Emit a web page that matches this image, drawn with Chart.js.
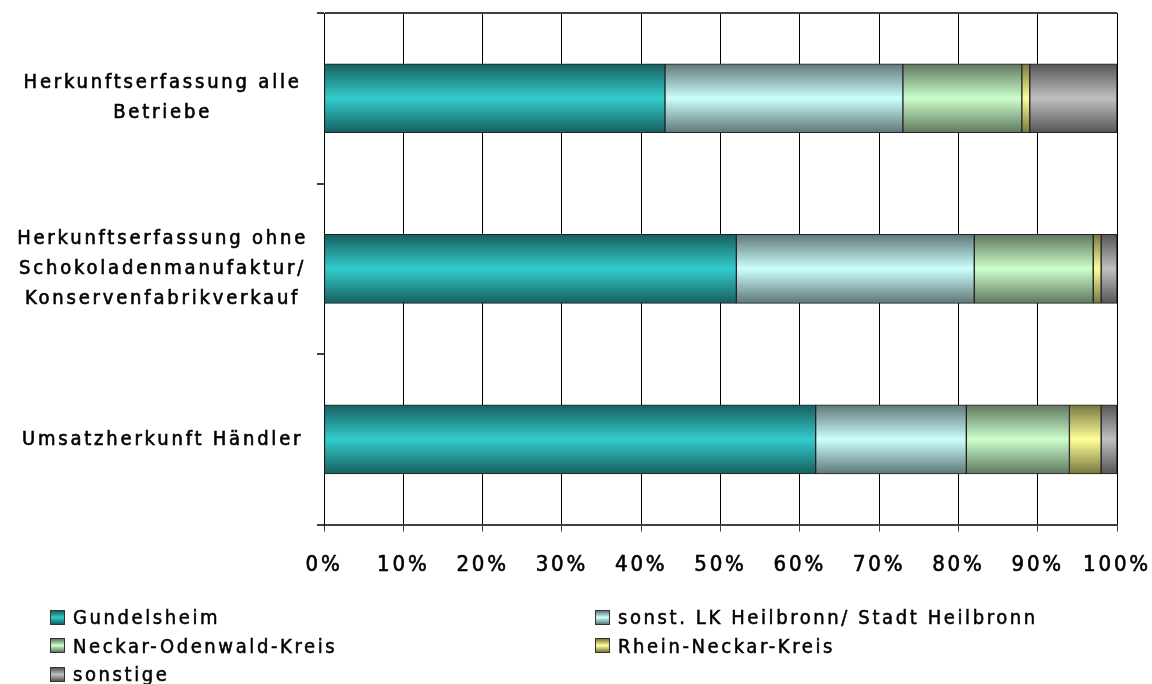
<!DOCTYPE html>
<html>
<head>
<meta charset="utf-8">
<script src="https://cdn.jsdelivr.net/npm/chart.js@4"></script>
<style>
html, body { margin:0; padding:0; background:#fff; }
#wrap { position:relative; width:1152px; height:684px; }
#chart { position:absolute; left:0; top:0; }
#legend { position:absolute; left:50px; top:603px; display:grid; grid-template-columns:545px 545px;
  font-family:'DejaVu Sans Condensed','DejaVu Sans',sans-serif; font-size:20px; letter-spacing:2.6px; color:#000;
  -webkit-text-stroke:0.5px #000; }
#legend .item { height:28.5px; display:flex; align-items:center; white-space:nowrap; }
#legend .box { width:13px; height:13px; border:1px solid #333; margin-right:8px; }
</style>
</head>
<body>
<div id="wrap">
<canvas id="chart" width="1152" height="684"></canvas>
<div id="legend"></div>
</div>
<script>
// categories and values (percent of total)
const categories = [
  ['Herkunftserfassung alle', 'Betriebe'],
  ['Herkunftserfassung ohne', 'Schokoladenmanufaktur/', 'Konservenfabrikverkauf'],
  'Umsatzherkunft Händler'
];
const seriesNames = ['Gundelsheim', 'sonst. LK Heilbronn/ Stadt Heilbronn', 'Neckar-Odenwald-Kreis', 'Rhein-Neckar-Kreis', 'sonstige'];
const gundelsheim    = [43, 52, 62];
const heilbronn      = [30, 30, 19];
const neckarOdenwald = [15, 15, 13];
const rheinNeckar    = [1, 1, 4];
const sonstige       = [11, 2, 2];
const xTicks = [0, 10, 20, 30, 40, 50, 60, 70, 80, 90, 100];

// shading: light centre, dark edges
const centerColors = ['#33CCCC', '#CCFFFF', '#CCFFCC', '#FFFF99', '#C0C0C0'];
const edgeColors   = ['#175F5F', '#5F7777', '#5F775F', '#77773F', '#555555'];

const FONT = "'DejaVu Sans Condensed', 'DejaVu Sans', sans-serif";
const BAR = 69;

function shade(i){
  return (c) => {
    const y = c.chart.scales.y;
    if (!y || c.dataIndex === undefined) return centerColors[i];
    const mid = y.getPixelForValue(c.dataIndex);
    if (!isFinite(mid)) return centerColors[i];
    const g = c.chart.ctx.createLinearGradient(0, mid - BAR/2, 0, mid + BAR/2);
    g.addColorStop(0, edgeColors[i]);
    g.addColorStop(0.5, centerColors[i]);
    g.addColorStop(1, edgeColors[i]);
    return g;
  };
}

const values = [gundelsheim, heilbronn, neckarOdenwald, rheinNeckar, sonstige];
const datasets = values.map((v, i) => ({
  label: seriesNames[i],
  data: v,
  backgroundColor: shade(i),
  borderColor: '#222',
  borderWidth: 1,
  borderSkipped: false,
  barThickness: BAR
}));

// canvas letter spacing (reset on every resize, so set it each pass)
const spacing = {
  id: 'spacing',
  beforeUpdate(chart){ chart.ctx.letterSpacing = '2.8px'; },
  beforeDraw(chart){ chart.ctx.letterSpacing = '2.8px'; }
};

const chart = new Chart(document.getElementById('chart'), {
  type: 'bar',
  data: { labels: categories, datasets },
  options: {
    indexAxis: 'y',
    responsive: false,
    animation: false,
    layout: { padding: { left: 0, right: 35, top: 13, bottom: 86 } },
    plugins: { legend: { display: false }, tooltip: { enabled: false } },
    scales: {
      x: {
        stacked: true, min: 0, max: 100,
        afterBuildTicks: (s) => { s.ticks = xTicks.map(v => ({ value: v })); },
        afterFit: (s) => { s.paddingLeft = 0; s.paddingRight = 0; },
        ticks: { callback: v => v + '%', color: '#000', padding: 20, maxRotation: 0,
          textStrokeColor: '#000', textStrokeWidth: 0.6, font: { family: FONT, size: 22 } },
        grid: { color: '#000', lineWidth: 1, tickLength: 7, tickColor: '#404040' },
        border: { color: '#404040', width: 2 }
      },
      y: {
        stacked: true,
        afterFit: (s) => { s.width = 324; s.paddingTop = 0; s.paddingBottom = 0; },
        ticks: { color: '#000', padding: 9, crossAlign: 'center',
          textStrokeColor: '#000', textStrokeWidth: 0.6, font: { family: FONT, size: 20, lineHeight: 1.5 } },
        grid: { offset: true, tickLength: 7, tickColor: '#404040', lineWidth: 2,
          color: (c) => c.index === 0 ? '#404040' : 'rgba(0,0,0,0)' },
        border: { color: '#000', width: 1 }
      }
    }
  },
  plugins: [spacing]
});

// legend in two columns, as in the original
const legend = document.getElementById('legend');
seriesNames.forEach((name, i) => {
  const item = document.createElement('div');
  item.className = 'item';
  const box = document.createElement('span');
  box.className = 'box';
  box.style.background = 'linear-gradient(to bottom,' + edgeColors[i] + ',' + centerColors[i] + ',' + edgeColors[i] + ')';
  const txt = document.createElement('span');
  txt.textContent = name;
  item.appendChild(box);
  item.appendChild(txt);
  legend.appendChild(item);
});
</script>
</body>
</html>
